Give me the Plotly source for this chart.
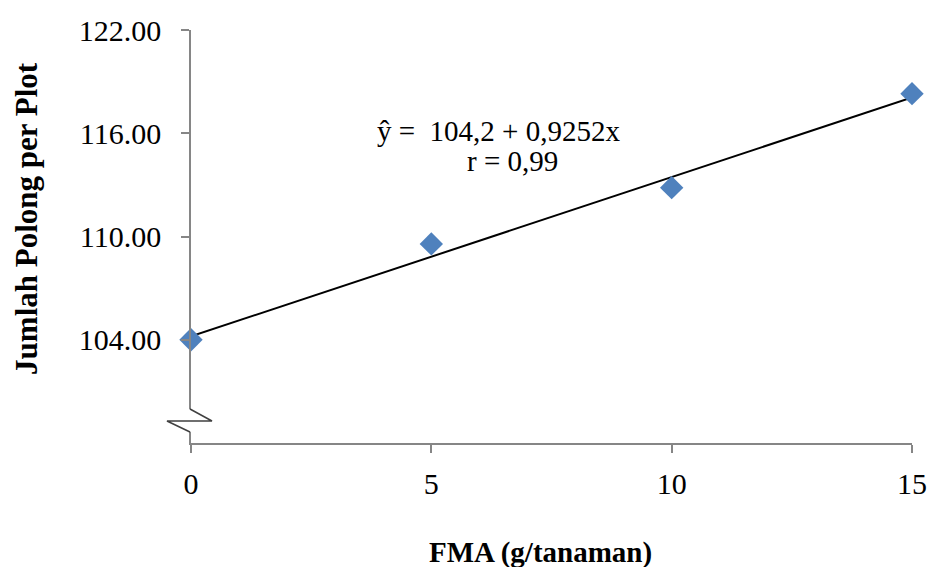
import plotly.graph_objects as go

x_vals = [0, 5, 10, 15]
y_vals = [104.0, 109.57, 112.84, 118.3]
intercept = 104.2
slope = 0.9252
y_ticks = [104, 110, 116, 122]
y_tick_labels = ["104.00", "110.00", "116.00", "122.00"]
x_ticks = [0, 5, 10, 15]

trend_x = [x_vals[0], x_vals[-1]]
trend_y = [intercept + slope * v for v in trend_x]

FONT = "Liberation Serif, Times New Roman, serif"
AXC = "#868686"

fig = go.Figure()
fig.add_trace(go.Scatter(x=trend_x, y=trend_y, mode="lines",
                         line=dict(color="black", width=2), cliponaxis=False,
                         showlegend=False, hoverinfo="skip"))
fig.add_trace(go.Scatter(x=x_vals, y=y_vals, mode="markers",
                         marker=dict(symbol="diamond", size=18, color="#4F81BD",
                                     line=dict(width=0)),
                         cliponaxis=False, showlegend=False))

fig.update_layout(
    width=930, height=567,
    margin=dict(l=191, r=18, t=30, b=124),
    paper_bgcolor="white", plot_bgcolor="white",
    font=dict(family=FONT, size=29, color="black"),
    showlegend=False,
    xaxis=dict(range=[0, 15], tickvals=x_ticks, ticktext=[str(v) for v in x_ticks],
               showgrid=False, zeroline=False, showline=True, linecolor=AXC, linewidth=1.5,
               ticks="outside", ticklen=8, tickcolor=AXC, tickwidth=1.5,
               tickfont=dict(size=30), ticklabelstandoff=5, ticklabeloverflow="allow",
               automargin=False),
    yaxis=dict(range=[98, 122], tickvals=y_ticks, ticktext=y_tick_labels,
               showgrid=False, zeroline=False, showline=True, linecolor=AXC, linewidth=1.5,
               ticks="outside", ticklen=8, tickcolor=AXC, tickwidth=1.5,
               tickfont=dict(size=30), ticklabelstandoff=14, ticklabeloverflow="allow",
               automargin=False),
)

# axis titles
fig.add_annotation(x=0.4854, y=-0.264, xref="paper", yref="paper",
                   text="<b>FMA (g/tanaman)</b>", showarrow=False,
                   font=dict(size=29, family=FONT), xanchor="center", yanchor="middle")
fig.add_annotation(x=-0.2275, y=0.545, xref="paper", yref="paper",
                   text="<b>Jumlah Polong per Plot</b>", showarrow=False, textangle=-90,
                   font=dict(size=31, family=FONT), xanchor="center", yanchor="middle")

# axis break symbol
fig.add_shape(type="rect", xref="paper", yref="paper",
              x0=-0.006, x1=0.006, y0=0.027, y1=0.082,
              fillcolor="white", line=dict(width=0), layer="above")
fig.add_shape(type="path", xref="paper", yref="paper",
              path="M -0.0014,0.0823 L 0.0291,0.0533 L -0.0333,0.0533 L -0.0014,0.0266",
              line=dict(color="#404040", width=1.5), layer="above")

fig.add_annotation(x=0.426, y=0.755, xref="paper", yref="paper",
                   text="ŷ =&nbsp; 104,2 + 0,9252x", showarrow=False,
                   font=dict(size=29, family=FONT), xanchor="center", yanchor="middle")
fig.add_annotation(x=0.446, y=0.682, xref="paper", yref="paper",
                   text="r = 0,99", showarrow=False,
                   font=dict(size=29, family=FONT), xanchor="center", yanchor="middle")

fig.write_html("out.html", config={"displayModeBar": False},
               post_script="document.body.style.margin='0';document.body.style.overflow='hidden';")
